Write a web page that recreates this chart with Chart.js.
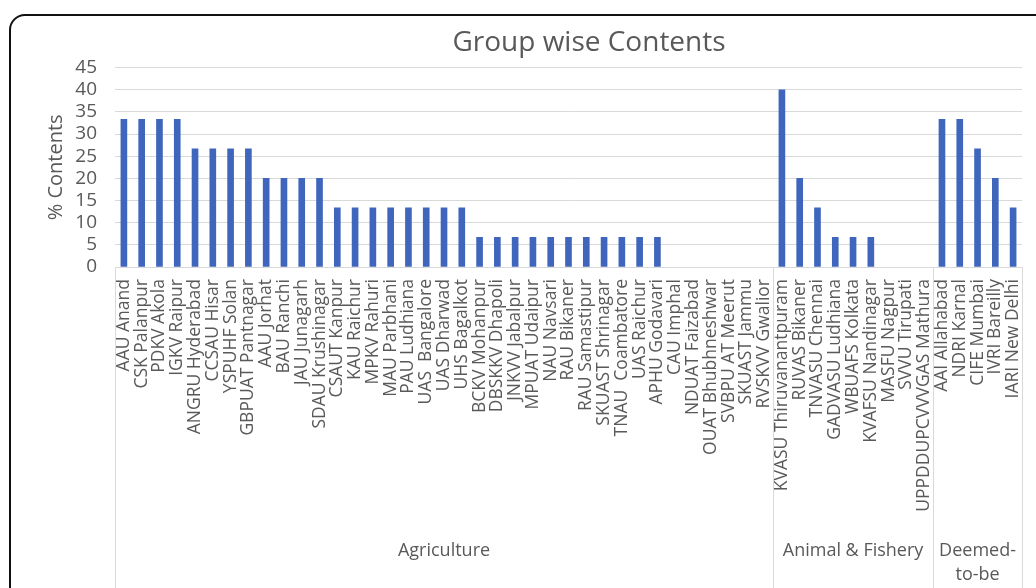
<!DOCTYPE html>
<html>
<head>
<meta charset="utf-8">
<script src="https://cdn.jsdelivr.net/npm/chart.js@4.4.1/dist/chart.umd.min.js"></script>
<style>
  html, body { margin: 0; padding: 0; background: #fff; overflow: hidden; width: 1036px; height: 588px; }
  #frame { position: absolute; left: 9px; top: 14px; width: 1200px; height: 700px; border: 2px solid #111; border-radius: 16px; }
  #wrap { position: absolute; left: 0; top: 0; width: 1178px; height: 620px; }
</style>
</head>
<body>
<div id="frame"></div>
<div id="wrap"><canvas id="bar_chart"></canvas></div>
<script>
const groupNames = ['Agriculture', ['Animal & Fishery'], ['Deemed-', 'to-be']];

const agriLabels = [
    'AAU Anand', 'CSK Palanpur', 'PDKV Akola', 'IGKV Raipur',
    'ANGRU Hyderabad', 'CCSAU Hisar', 'YSPUHF Solan', 'GBPUAT Pantnagar',
    'AAU Jorhat', 'BAU Ranchi', 'JAU Junagarh', 'SDAU Krushinagar',
    'CSAUT Kanpur', 'KAU Raichur', 'MPKV Rahuri', 'MAU Parbhani', 'PAU Ludhiana',
    'UAS  Bangalore', 'UAS Dharwad', 'UHS Bagalkot',
    'BCKV Mohanpur', 'DBSKKV Dhapoli', 'JNKVV Jabalpur', 'MPUAT Udaipur', 'NAU Navsari',
    'RAU Bikaner', 'RAU Samastipur', 'SKUAST Shrinagar', 'TNAU  Coambatore', 'UAS Raichur',
    'APHU Godavari', 'CAU Imphal', 'NDUAT Faizabad', 'OUAT Bhubhneshwar', 'SVBPU AT Meerut',
    'SKUAST Jammu', 'RVSKVV Gwalior'
];
const agriValues = [
    33.33, 33.33, 33.33, 33.33,
    26.67, 26.67, 26.67, 26.67,
    20, 20, 20, 20,
    13.33, 13.33, 13.33, 13.33, 13.33, 13.33, 13.33, 13.33,
    6.67, 6.67, 6.67, 6.67, 6.67, 6.67, 6.67, 6.67, 6.67, 6.67, 6.67,
    0, 0, 0, 0, 0, 0
];

const animalLabels = [
    'KVASU Thiruvanantpuram', 'RUVAS Bikaner', 'TNVASU Chennai', 'GADVASU Ludhiana',
    'WBUAFS Kolkata', 'KVAFSU Nandinagar', 'MASFU Nagpur', 'SVVU Tirupati', 'UPPDDUPCVVVGAS Mathura'
];
const animalValues = [40, 20, 13.33, 6.67, 6.67, 6.67, 0, 0, 0];

const deemedLabels = ['AAI Allahabad', 'NDRI Karnal', 'CIFE Mumbai', 'IVRI Bareilly', 'IARI New Delhi'];
const deemedValues = [33.33, 33.33, 26.67, 20, 13.33];

const groupSizes = [agriLabels.length, animalLabels.length, deemedLabels.length];
const allLabels = [...agriLabels, ...animalLabels, ...deemedLabels];
const allValues = [...agriValues, ...animalValues, ...deemedValues];

const textGrey = '#595959';
const lineGrey = '#d9d9d9';
const fontFam = "'Open Sans', sans-serif";

// draws the outer category level (group names + separators)
const groupAxis = {
    id: 'groupAxis',
    afterDraw(chart) {
        const x = chart.scales.x;
        const ctx = chart.ctx;
        const half = (x.getPixelForValue(1) - x.getPixelForValue(0)) / 2;
        const top = chart.chartArea.bottom;
        let start = 0;
        ctx.save();
        ctx.strokeStyle = lineGrey;
        ctx.lineWidth = 1;
        const edge = (px) => {
            ctx.beginPath();
            ctx.moveTo(Math.round(px) + 0.5, top);
            ctx.lineTo(Math.round(px) + 0.5, chart.height);
            ctx.stroke();
        };
        edge(x.getPixelForValue(0) - half);
        ctx.fillStyle = textGrey;
        ctx.font = '18px ' + fontFam;
        ctx.textAlign = 'center';
        ctx.textBaseline = 'middle';
        groupSizes.forEach((n, g) => {
            const left = x.getPixelForValue(start) - half;
            const right = x.getPixelForValue(start + n - 1) + half;
            edge(right);
            const lines = [].concat(groupNames[g]);
            lines.forEach((t, k) => ctx.fillText(t, (left + right) / 2, 551 + k * 24));
            start += n;
        });
        ctx.restore();
    }
};

const ctx1 = document.getElementById('bar_chart').getContext('2d');
const bar_chart = new Chart(ctx1, {
    type: 'bar',
    data: {
        labels: allLabels,
        datasets: [{
            label: '% Contents',
            data: allValues,
            backgroundColor: allValues.map(v => v > 0 ? '#3f66bc' : 'rgba(0,0,0,0)'),
            barThickness: 6
        }]
    },
    options: {
        responsive: true,
        maintainAspectRatio: false,
        animation: false,
        layout: { padding: 0 },
        plugins: {
            legend: { display: false },
            tooltip: { enabled: false },
            title: {
                display: true,
                text: 'Group wise Contents',
                color: textGrey,
                font: { family: fontFam, size: 28, weight: 'normal' },
                padding: { top: 26, bottom: 8 }
            }
        },
        scales: {
            x: {
                grid: { display: false },
                border: { color: lineGrey },
                ticks: {
                    autoSkip: false,
                    minRotation: 90,
                    maxRotation: 90,
                    padding: 4,
                    color: textGrey,
                    font: { family: fontFam, size: 17.5 }
                },
                afterFit: (scale) => { scale.height = 353; }
            },
            y: {
                min: 0,
                max: 45,
                ticks: {
                    stepSize: 5,
                    autoSkip: false,
                    padding: 18,
                    color: textGrey,
                    font: { family: fontFam, size: 19 }
                },
                grid: { color: lineGrey, drawTicks: false },
                border: { display: false },
                title: {
                    display: true,
                    text: '% Contents',
                    color: textGrey,
                    font: { family: fontFam, size: 20 },
                    padding: { top: 44, bottom: 0 }
                },
                afterFit: (scale) => { scale.width = 115; }
            },
            // empty right axis: keeps the plot inside the visible 1036px while the
            // title stays centred on the full (cropped) chart width
            y2: {
                position: 'right',
                grid: { display: false },
                border: { display: false },
                ticks: { display: false },
                afterFit: (scale) => { scale.width = 156; }
            }
        }
    },
    plugins: [groupAxis]
});
</script>
</body>
</html>
